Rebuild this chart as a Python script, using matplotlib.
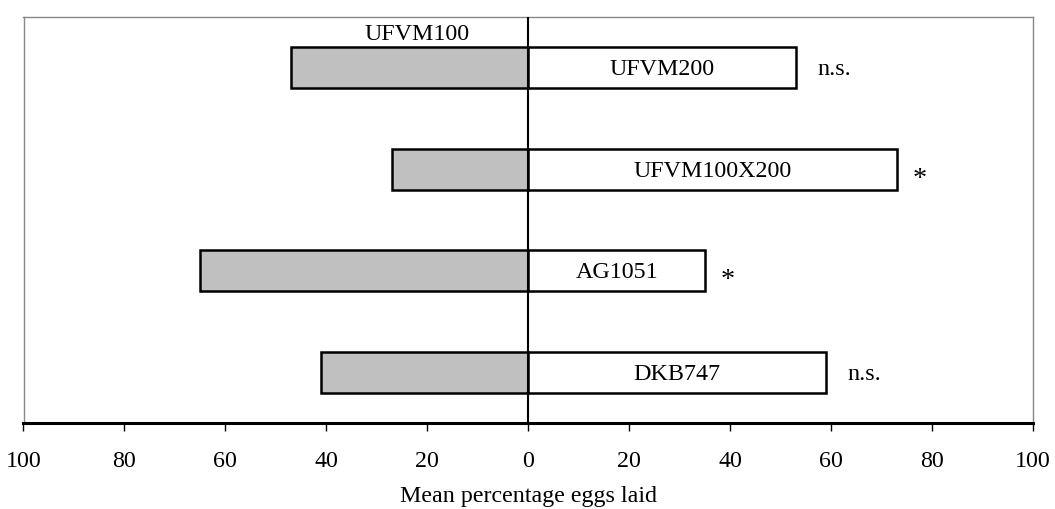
import matplotlib
matplotlib.use("Agg")
import matplotlib.pyplot as plt

# Data
left_label = "UFVM100"
right_labels = ["UFVM200", "UFVM100X200", "AG1051", "DKB747"]
left_values = [47, 27, 65, 41]
right_values = [53, 73, 35, 59]
significance = ["n.s.", "*", "*", "n.s."]
ticks = [-100, -80, -60, -40, -20, 0, 20, 40, 60, 80, 100]

plt.rcParams["font.family"] = ["Liberation Serif", "DejaVu Serif"]
FS = 17.3

fig = plt.figure(figsize=(10.55, 5.09), dpi=100)
ax = fig.add_axes([23.5 / 1055, 1 - 423 / 509, (1033 - 23.5) / 1055, (423 - 17) / 509])

ypos = list(range(len(right_labels)))
ax.barh(ypos, [-v for v in left_values], height=0.4, color="#c0c0c0",
        edgecolor="black", linewidth=1.8, zorder=2)
ax.barh(ypos, right_values, height=0.4, color="white",
        edgecolor="black", linewidth=1.8, zorder=2)
ax.axvline(0, color="black", linewidth=1.5, zorder=3)

for y, lab, v, sig in zip(ypos, right_labels, right_values, significance):
    ax.text(v / 2, y + 0.02, lab, ha="center", va="center", fontsize=FS, zorder=4)
    if sig == "*":
        # asterisks are drawn a bit larger in the reference
        ax.text(v + 4.5, y + 0.1, sig, ha="center", va="center", fontsize=FS + 3)
    else:
        ax.text(v + 4.2, y + 0.02, sig, ha="left", va="center", fontsize=FS)

ax.text(-left_values[0] / 2 + 1.5, ypos[0] - 0.22, left_label, ha="center",
        va="bottom", fontsize=FS)

ax.set_xlim(-100, 100)
ax.set_ylim(len(right_labels) - 0.5, -0.5)
ax.set_xticks(ticks)
ax.set_xticklabels([str(abs(t)) for t in ticks], fontsize=FS)
ax.set_yticks([])
ax.tick_params(axis="x", direction="out", length=6, width=1, pad=14)
ax.set_xlabel("Mean percentage eggs laid", fontsize=FS, labelpad=10)

for side in ["top", "left", "right"]:
    ax.spines[side].set_color("#888888")
    ax.spines[side].set_linewidth(1.0)
ax.spines["bottom"].set_color("black")
ax.spines["bottom"].set_linewidth(2.2)

fig.savefig("out.png", dpi=100)
